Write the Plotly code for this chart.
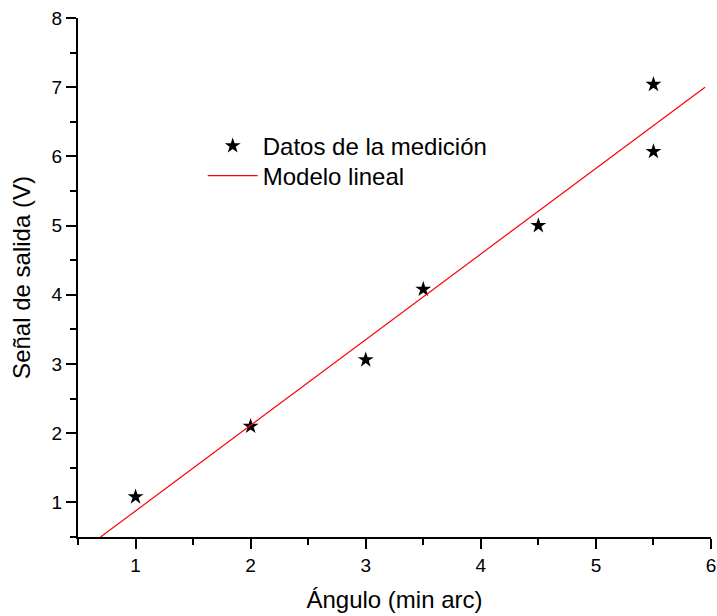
import plotly.graph_objects as go

# Data
angle = [1.0, 2.0, 3.0, 3.5, 4.5, 5.5, 5.5]
signal = [1.08, 2.10, 3.06, 4.08, 5.00, 7.04, 6.07]

# Linear model drawn as a segment (end points)
model_x = [0.696, 5.948]
model_y = [0.50, 7.00]

fig = go.Figure()
fig.add_trace(go.Scatter(
    x=angle, y=signal, mode="markers", name="Datos de la medición",
    marker=dict(symbol="star", size=12, color="black", line=dict(width=0)),
    legend="legend",
))
fig.add_trace(go.Scatter(
    x=model_x, y=model_y, mode="lines", name="Modelo lineal",
    line=dict(color="#ff0000", width=1.2),
    legend="legend2",
))

font = "Liberation Sans, Arial, sans-serif"
axis_common = dict(
    showline=True, linecolor="black", linewidth=2,
    ticks="outside", ticklen=10, tickwidth=2, tickcolor="black",
    showgrid=False, zeroline=False, mirror=False, automargin=False,
    tickfont=dict(family=font, size=19, color="black"),
)
fig.update_xaxes(
    range=[0.5, 6], tickvals=[1, 2, 3, 4, 5, 6],
    minor=dict(ticks="outside", ticklen=6, tickwidth=2, tickcolor="black",
               dtick=0.5, tick0=0.5, showgrid=False),
    title=dict(text="Ángulo (min arc)", font=dict(family=font, size=24, color="black"), standoff=16),
    **axis_common,
)
fig.update_yaxes(
    range=[0.5, 8], tickvals=[1, 2, 3, 4, 5, 6, 7, 8],
    minor=dict(ticks="outside", ticklen=6, tickwidth=2, tickcolor="black",
               dtick=0.5, tick0=0.5, showgrid=False),
    title=dict(text="Señal de salida (V)", font=dict(family=font, size=24, color="black"), standoff=14),
    **axis_common,
)
legend_common = dict(
    xanchor="left", yanchor="middle",
    font=dict(family=font, size=24, color="black"),
    bgcolor="rgba(0,0,0,0)", itemwidth=50,
)
fig.update_layout(
    width=717, height=616,
    margin=dict(l=78, r=6, t=18, b=79),
    paper_bgcolor="white", plot_bgcolor="white",
    font=dict(family=font, color="black"),
    showlegend=True,
    legend=dict(x=0.197, y=0.753, **legend_common),
    legend2=dict(x=0.197, y=0.6956, **legend_common),
)
fig.write_html("out.html")
